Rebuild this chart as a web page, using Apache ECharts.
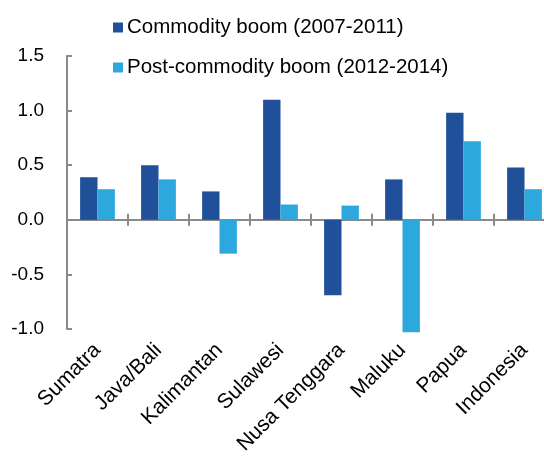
<!DOCTYPE html>
<html><head><meta charset="utf-8">
<script src="https://cdn.jsdelivr.net/npm/echarts@6/dist/echarts.min.js"></script>
<style>html,body{margin:0;padding:0;background:#fff}#c{width:544px;height:456px}</style>
</head><body><div id="c"></div>
<script>
const categories = ['Sumatra','Java/Bali','Kalimantan','Sulawesi','Nusa Tenggara','Maluku','Papua','Indonesia'];
const boom = [0.39, 0.50, 0.26, 1.10, -0.69, 0.37, 0.98, 0.48];
const postBoom = [0.28, 0.37, -0.31, 0.14, 0.13, -1.03, 0.72, 0.28];
const seriesNames = ['Commodity boom (2007-2011)', 'Post-commodity boom (2012-2014)'];
const yTicks = {min: -1, max: 1.5, interval: 0.5};

const FONT = 'Liberation Sans, Arial, sans-serif';
const AX = '#8a8a8a';
const chart = echarts.init(document.getElementById('c'));
chart.setOption({
  animation: false,
  textStyle: {fontFamily: FONT},
  grid: {left: 67, right: -11, top: 56, bottom: 127, containLabel: false, outerBoundsMode: 'none'},
  legend: {
    orient: 'vertical', left: 108, top: 12, icon: 'rect', itemWidth: 10, itemHeight: 10,
    itemGap: 19,
    textStyle: {fontSize: 20.5, color: '#000', fontFamily: FONT, padding: [0,0,0,-1]},
    data: seriesNames
  },
  xAxis: [
    {type: 'category', data: categories, position: 'bottom',
     axisLine: {onZero: true, onZeroAxisIndex: 0, lineStyle: {color: AX, width: 2}},
     axisTick: {show: true, interval: 0, length: 6, lineStyle: {color: AX, width: 2}},
     axisLabel: {show: false, interval: 0}},
    {type: 'category', data: categories, position: 'bottom',
     axisLine: {show: true, onZero: true, onZeroAxisIndex: 0, lineStyle: {color: AX, width: 2}},
     axisTick: {show: true, interval: 0, inside: true, length: 6, lineStyle: {color: AX, width: 2}},
     axisLabel: {show: false, interval: 0}},
    {type: 'category', data: categories, position: 'bottom',
     axisLine: {show: false, onZero: false},
     axisTick: {show: false},
     axisLabel: {rotate: 45, margin: 18, fontSize: 21, color: '#000', fontFamily: FONT, interval: 0}}
  ],
  yAxis: {
    type: 'value', min: yTicks.min, max: yTicks.max, interval: yTicks.interval,
    axisLine: {show: true, lineStyle: {color: AX, width: 2}},
    axisTick: {show: true, inside: true, length: 5, lineStyle: {color: AX, width: 2}},
    splitLine: {show: false},
    axisLabel: {margin: 23, fontSize: 19, color: '#000', fontFamily: FONT,
      formatter: v => v.toFixed(1)}
  },
  series: [
    {name: seriesNames[0], type: 'bar', data: boom, barGap: '0%', barCategoryGap: '43%',
     clip: false, itemStyle: {color: '#21509A'}},
    {name: seriesNames[1], type: 'bar', data: postBoom, barGap: '0%', barCategoryGap: '43%',
     clip: false, itemStyle: {color: '#2CA8DF'}}
  ]
});
</script></body></html>
